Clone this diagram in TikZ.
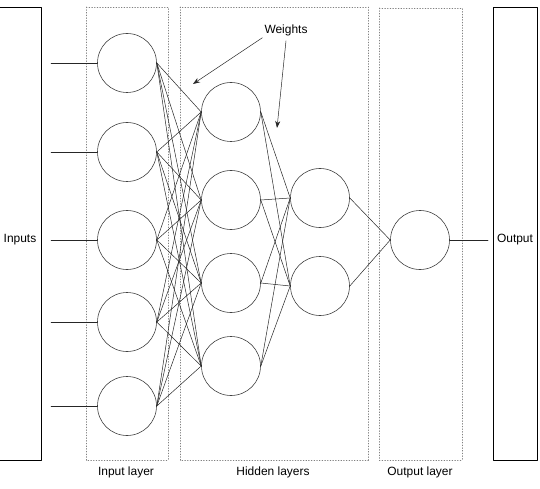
\documentclass[tikz,border=0pt]{standalone}
\usepackage{fontspec}
\setmainfont{Liberation Sans}
\usetikzlibrary{arrows.meta}

\begin{document}
\begin{tikzpicture}[x=1bp, y=-1bp, >={Stealth[length=7bp,width=5bp]}, line join=round, line cap=round,
    neuron/.style={draw=black!75, circle, minimum size=59bp, inner sep=0pt, line width=0.6bp},
    layerbox/.style={draw=black!50, dotted, line width=0.7bp},
    iobox/.style={draw, line width=0.9bp},
    link/.style={draw=black!85, line width=0.5bp},
    lbl/.style={font=\fontsize{12}{14}\selectfont, inner sep=2bp}]
    \useasboundingbox (0,0) rectangle (540,489);
    % boxes
    \draw[iobox] (-2,7) rectangle (41,460);
    \draw[iobox] (493,7) rectangle (537,460);
    \draw[layerbox] (86,7) rectangle (168,460);
    \draw[layerbox] (180,7) rectangle (368,460);
    \draw[layerbox] (379,8) rectangle (462,460);
    % neurons
    \foreach \y [count=\i] in {63,152,240,322,406}
      \node[neuron] (in\i) at (127,\y) {};
    \foreach \y [count=\i] in {112,200,283,366}
      \node[neuron] (ha\i) at (231,\y) {};
    \foreach \y [count=\i] in {198,286}
      \node[neuron] (hb\i) at (320,\y) {};
    \node[neuron] (out) at (420,240) {};
    % weights
    \foreach \i in {1,...,5}
      \foreach \j in {1,...,4}
        \draw[link] (in\i.east) -- (ha\j.west);
    \foreach \i in {1,...,4}
      \foreach \j in {1,2}
        \draw[link] (ha\i.east) -- (hb\j.west);
    \foreach \j in {1,2}
      \draw[link] (hb\j.east) -- (out.west);
    % inputs and output
    \node[lbl] (inputs) at (20,240) {Inputs};
    \node[lbl] (output) at (515,240) {Output};
    \foreach \i in {1,...,5} {
      \coordinate (x\i) at (51,0 |- in\i);
      \draw[link] (x\i) -- (in\i.west);
    }
    \coordinate (y) at (488,240);
    \draw[link] (out.east) -- (y);
    % labels
    \node[lbl] (weights) at (286,30) {Weights};
    \coordinate (w1) at (193,84);
    \coordinate (w2) at (277,128);
    \draw[link, ->] (weights.south west) -- (w1);
    \draw[link, ->] ([yshift=-3bp]weights.south) -- (w2);
    \node[lbl] (inlayer) at (126,472) {Input layer};
    \node[lbl] (hidlayer) at (273,472) {Hidden layers};
    \node[lbl] (outlayer) at (420,472) {Output layer};
  \end{tikzpicture}
\end{document}
